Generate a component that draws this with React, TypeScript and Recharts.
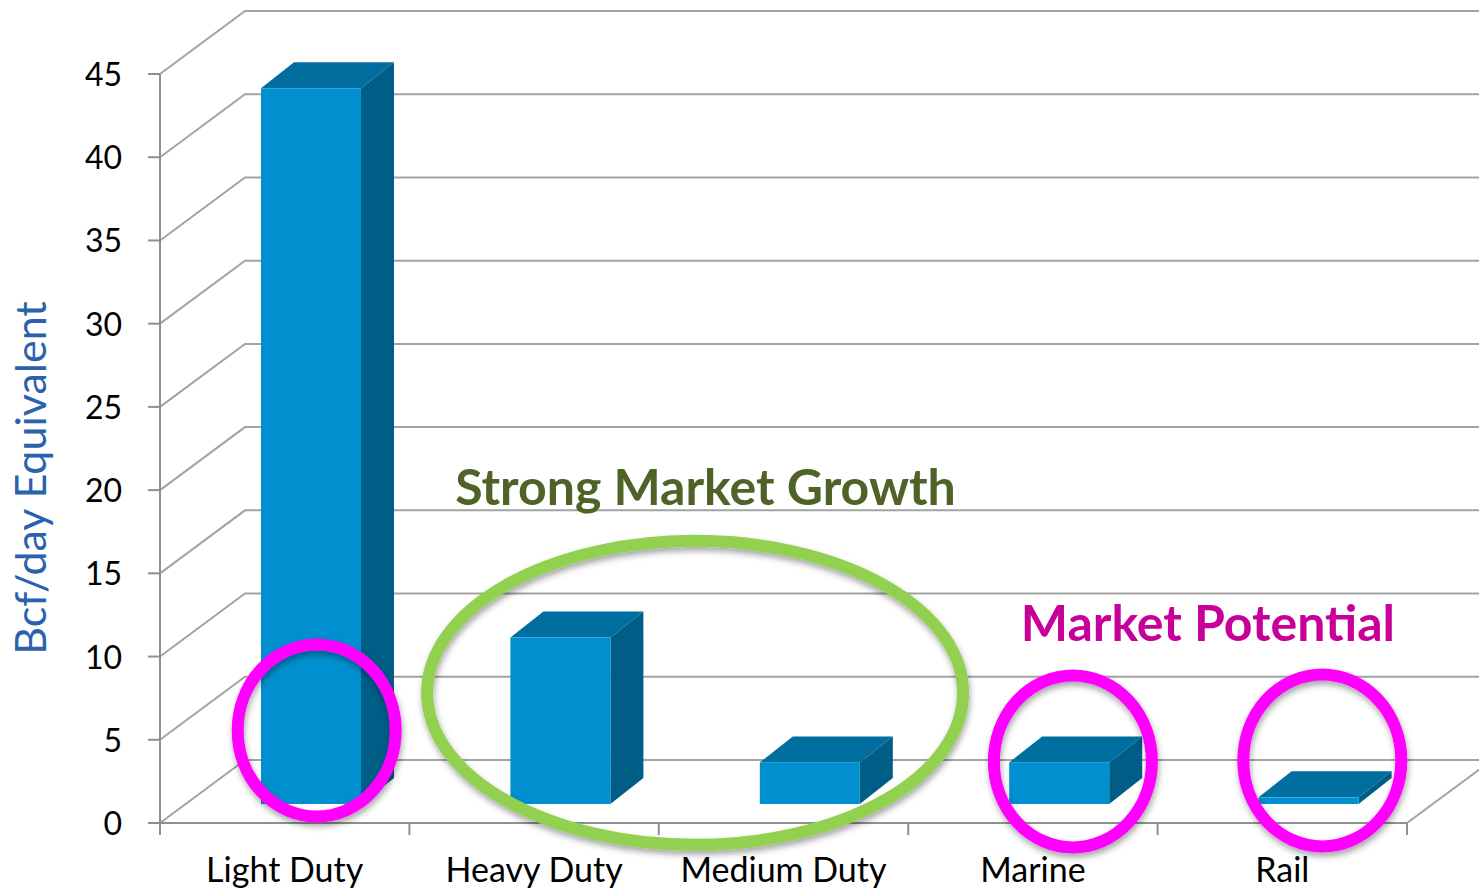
import { BarChart, Bar, XAxis, YAxis, CartesianGrid, ReferenceDot } from 'recharts';

const categories = ['Light Duty', 'Heavy Duty', 'Medium Duty', 'Marine', 'Rail'];
const demand = [43, 10, 2.5, 2.5, 0.4];
const yTicks = [0, 5, 10, 15, 20, 25, 30, 35, 40, 45];

const data = categories.map((name, i) => ({ name, value: demand[i] }));

// layout of the fake 3D frame
const W = 1479;
const H = 890;
const PLOT_LEFT = 160;
const PLOT_TOP = 74;
const PLOT_RIGHT = 1407;
const PLOT_BOTTOM = 823;
const BAND = (PLOT_RIGHT - PLOT_LEFT) / categories.length;
const WALL_DX = 85;
const WALL_DY = -63;
const BAR_DX = 26;
const BAR_DY = -19;
const BAR_DEPTH_DX = 33;
const BAR_DEPTH_DY = -26;

const FONT = 'Lato, "Open Sans", sans-serif';
const GRID = '#a3a3a3';
const AXIS = '#8f8f8f';
const MAGENTA = '#ff00ff';
const GREEN = '#92d050';

const GridLine = (props: any) => {
  const { x1, y1 } = props;
  const bx = x1 + WALL_DX;
  const by = y1 + WALL_DY;
  const isFloor = Math.abs(y1 - PLOT_BOTTOM) < 1;
  return (
    <g>
      <path d={`M${x1},${y1} L${bx},${by} L${W + 20},${by}`} fill="none" stroke={GRID} strokeWidth={2} />
      {isFloor && (
        <path d={`M${PLOT_RIGHT},${y1} L${PLOT_RIGHT + WALL_DX},${by}`} fill="none" stroke={GRID} strokeWidth={2} />
      )}
    </g>
  );
};

const Box3D = (props: any) => {
  const { x, y, width, height } = props;
  if (width == null || height == null) return null;
  const fx = x + BAR_DX;
  const fy = y + BAR_DY;
  const dx = BAR_DEPTH_DX;
  const dy = BAR_DEPTH_DY;
  return (
    <g>
      <polygon
        points={`${fx},${fy} ${fx + dx},${fy + dy} ${fx + width + dx},${fy + dy} ${fx + width},${fy}`}
        fill="#006f9f"
      />
      <polygon
        points={`${fx + width},${fy} ${fx + width + dx},${fy + dy} ${fx + width + dx},${fy + height + dy} ${fx + width},${fy + height}`}
        fill="#005d86"
      />
      <rect x={fx} y={fy} width={width} height={height} fill="#0090cf" />
    </g>
  );
};

const CategoryTick = (props: any) => {
  const { x, payload, index } = props;
  const left = x - BAND / 2;
  return (
    <g>
      <line x1={left} y1={PLOT_BOTTOM} x2={left} y2={PLOT_BOTTOM + 12} stroke={AXIS} strokeWidth={2} />
      {index === categories.length - 1 && (
        <line x1={left + BAND} y1={PLOT_BOTTOM} x2={left + BAND} y2={PLOT_BOTTOM + 12} stroke={AXIS} strokeWidth={2} />
      )}
      <text x={x} y={PLOT_BOTTOM + 59} textAnchor="middle" fontSize={34} fontFamily={FONT} fill="#000">
        {payload.value}
      </text>
    </g>
  );
};

const ValueTick = (props: any) => {
  const { y, payload } = props;
  return (
    <text x={PLOT_LEFT - 38} y={y + 12} textAnchor="end" fontSize={32} fontFamily={FONT} fill="#000">
      {payload.value}
    </text>
  );
};

const ring = (color: string, rx: number, ry: number, dx: number, dy: number) => (props: any) => {
  const { cx, cy } = props;
  if (cx == null || cy == null) return null;
  return (
    <g>
      <defs>
        <filter id="ringShadow" x="-20%" y="-20%" width="140%" height="140%">
          <feDropShadow dx="1" dy="4" stdDeviation="3" floodColor="#000" floodOpacity="0.35" />
        </filter>
      </defs>
      <ellipse cx={cx + dx} cy={cy + dy} rx={rx} ry={ry} fill="none" stroke={color} strokeWidth={12} filter="url(#ringShadow)" />
    </g>
  );
};

const note = (text: string, color: string, dx: number, dy: number) => (props: any) => {
  const { cx, cy } = props;
  if (cx == null || cy == null) return null;
  return (
    <text x={cx + dx} y={cy + dy} textAnchor="middle" fontSize={50} fontWeight="bold" fontFamily={FONT} fill={color}>
      {text}
    </text>
  );
};

const YTitle = () => (
  <text
    transform="translate(46,478) rotate(-90)"
    textAnchor="middle"
    fontSize={43}
    fontFamily={FONT}
    fill="#2a62ae"
  >
    Bcf/day Equivalent
  </text>
);

export default function App() {
  return (
    <div style={{ position: 'absolute', left: 0, top: 0, width: W, height: H, background: '#fff', overflow: 'hidden' }}>
      <BarChart
        width={W}
        height={H}
        data={data}
        margin={{ top: PLOT_TOP, right: W - PLOT_RIGHT, bottom: H - PLOT_BOTTOM - 30, left: PLOT_LEFT - 60 }}
        barSize={100}
      >
        <CartesianGrid horizontal={GridLine} vertical={false} />
        <XAxis
          dataKey="name"
          height={30}
          axisLine={{ stroke: AXIS, strokeWidth: 2 }}
          tickLine={false}
          tick={CategoryTick}
          interval={0}
        />
        <YAxis
          width={60}
          domain={[0, 45]}
          ticks={yTicks}
          interval={0}
          axisLine={{ stroke: AXIS, strokeWidth: 2 }}
          tickLine={{ stroke: AXIS, strokeWidth: 2 }}
          tickSize={12}
          tick={ValueTick}
          label={{ content: YTitle }}
        />
        <Bar dataKey="value" shape={Box3D} isAnimationActive={false} />
        <ReferenceDot x="Light Duty" y={5.5} r={0} ifOverflow="visible" shape={ring(MAGENTA, 79, 86, 32, -1)} />
        <ReferenceDot x="Heavy Duty" y={8} r={0} ifOverflow="visible" shape={ring(GREEN, 268, 152, 161, 3)} />
        <ReferenceDot x="Marine" y={3.7} r={0} ifOverflow="visible" shape={ring(MAGENTA, 79, 86, 40, 0)} />
        <ReferenceDot x="Rail" y={3.7} r={0} ifOverflow="visible" shape={ring(MAGENTA, 79, 86, 40, -1)} />
        <ReferenceDot x="Medium Duty" y={20} r={0} ifOverflow="visible" shape={note('Strong Market Growth', '#4f6228', -78, 15)} />
        <ReferenceDot x="Marine" y={10} r={0} ifOverflow="visible" shape={note('Market Potential', '#c8009a', 175, -16)} />
      </BarChart>
    </div>
  );
}
